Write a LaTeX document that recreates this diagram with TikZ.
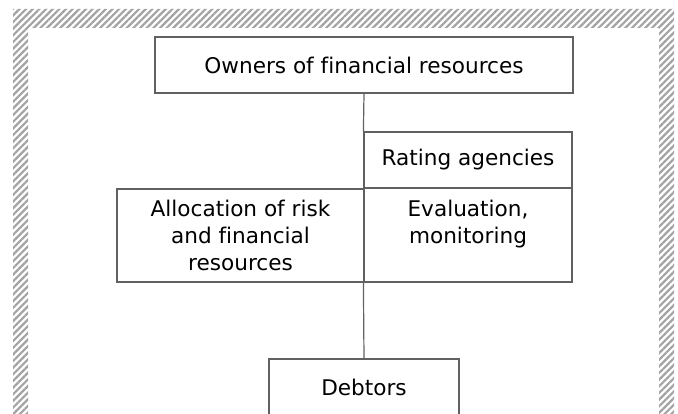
\documentclass[tikz,border=0pt]{standalone}
\usepackage{fontspec}
\setmainfont{DejaVu Sans}[Ligatures=NoCommon]
\usetikzlibrary{patterns.meta}
\definecolor{edge}{gray}{0.38}
\definecolor{hatch}{gray}{0.64}
\begin{document}
\begin{tikzpicture}[
  x=1pt, y=-1pt,
  box/.style={draw=edge, line width=1.2pt, align=center, inner sep=0pt,
    font=\fontsize{21.6}{27}\selectfont},
  link/.style={draw=edge, line width=1.2pt}
]
\useasboundingbox (0,0) rectangle (678,414);
\clip (0,0) rectangle (678,414);
\fill[even odd rule, pattern={Lines[angle=45, distance=4.7pt, line width=2.2pt]}, pattern color=hatch]
  (13,9) rectangle (674,430) (28,28) rectangle (659,430);
\node[box, minimum width=418pt, minimum height=56pt] (owners) at (364,65) {Owners of financial resources};
\node[box, minimum width=208pt, minimum height=56pt] (rating) at (468,160) {Rating agencies};
\node[box, minimum width=208pt, minimum height=94pt] (evaluation) at (468,235) {Evaluation,\\monitoring\\\mbox{}};
\node[box, minimum width=247pt, minimum height=93pt] (allocation) at (240.5,235.5) {Allocation of risk\\and financial\\resources};
\node[box, minimum width=190pt, minimum height=56pt] (debtors) at (364,387) {Debtors};
\draw[link] (owners.south) -- (rating.north west);
\draw[link] (evaluation.south west) -- (debtors.north);
\end{tikzpicture}
\end{document}
